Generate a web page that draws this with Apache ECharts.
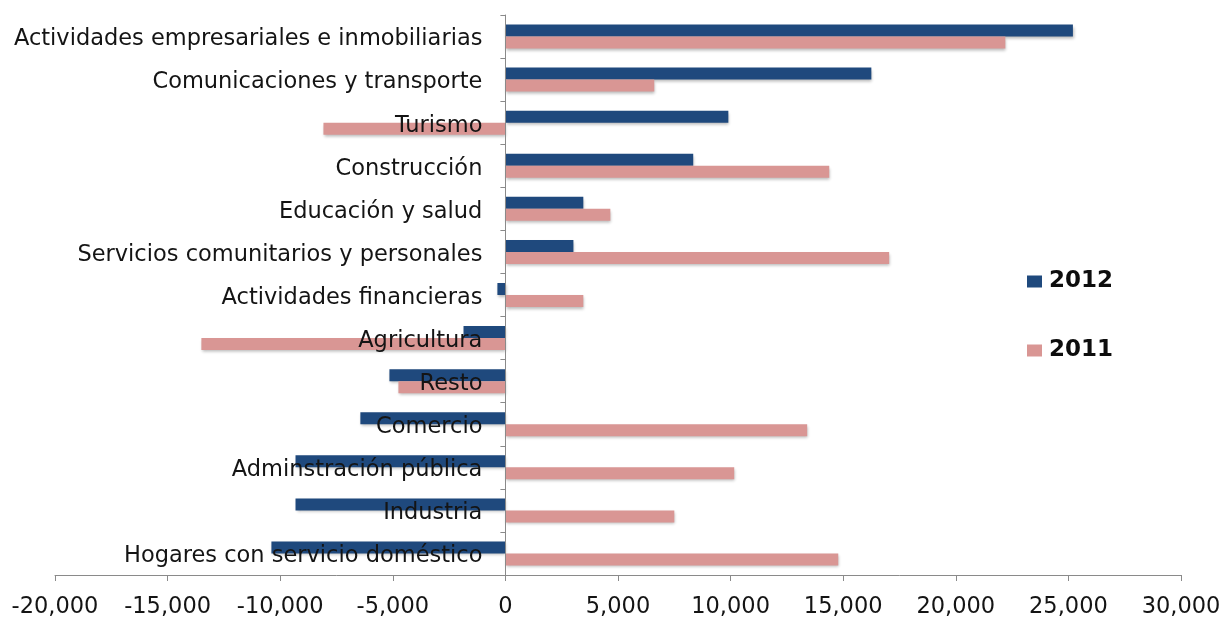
<!DOCTYPE html>
<html>
<head>
<meta charset="utf-8">
<script src="https://cdn.jsdelivr.net/npm/echarts@6/dist/echarts.min.js"></script>
<style>
  html, body { margin: 0; padding: 0; background: #ffffff; }
  #chart { width: 1224px; height: 617px; }
</style>
</head>
<body>
<div id="chart"></div>
<script>
// Sectors, listed top to bottom
const categories = [
  'Actividades empresariales e inmobiliarias',
  'Comunicaciones y transporte',
  'Turismo',
  'Construcción',
  'Educación y salud',
  'Servicios comunitarios y personales',
  'Actividades financieras',
  'Agricultura',
  'Resto',
  'Comercio',
  'Adminstración pública',
  'Industria',
  'Hogares con servicio doméstico'
];

const values2012 = [25200, 16250, 9900, 8340, 3460, 3020, -355, -1860, -5150, -6440, -9320, -9320, -10390];
const values2011 = [22200, 6610, -8080, 14380, 4660, 17040, 3460, -13500, -4750, 13400, 10160, 7500, 14780];

const seriesNames = ['2012', '2011'];
const xTicks = { min: -20000, max: 30000, step: 5000 };

const FONT = 'DejaVu Sans';
const axisGrey = '#8a8a8a';
const GRID_LEFT = 55;
const GRID_RIGHT = 43;
const CHART_W = 1224;

function withCommas(v) {
  const s = Math.abs(v).toString().replace(/\B(?=(\d{3})+(?!\d))/g, ',');
  return (v < 0 ? '-' : '') + s;
}

// Category labels sit just left of the zero line; compute where zero falls
const plotW = CHART_W - GRID_LEFT - GRID_RIGHT;
const zeroX = GRID_LEFT + plotW * (0 - xTicks.min) / (xTicks.max - xTicks.min);
const labelGap = 23;

const barShadow = {
  shadowBlur: 3,
  shadowOffsetX: 1,
  shadowOffsetY: 2,
  shadowColor: 'rgba(0,0,0,0.28)'
};

const chart = echarts.init(document.getElementById('chart'), null, { renderer: 'canvas' });

chart.setOption({
  animation: false,
  backgroundColor: '#ffffff',
  grid: { left: GRID_LEFT, right: GRID_RIGHT, top: 15, bottom: 42, containLabel: false, outerBoundsMode: 'none' },
  legend: {
    orient: 'vertical',
    left: 1022,
    top: 265,
    itemWidth: 15,
    itemHeight: 12,
    itemGap: 46,
    icon: 'rect',
    textStyle: { fontFamily: FONT, fontSize: 23, fontWeight: 'bold', color: '#0d0d0d', lineHeight: 22, padding: [0, 0, 0, 2] },
    data: seriesNames
  },
  xAxis: {
    type: 'value',
    min: xTicks.min,
    max: xTicks.max,
    interval: xTicks.step,
    splitLine: { show: false },
    axisLine: { show: true, onZero: false, lineStyle: { color: axisGrey, width: 1 } },
    axisTick: { show: true, length: 6, lineStyle: { color: axisGrey } },
    axisLabel: {
      margin: 21,
      fontFamily: FONT,
      fontSize: 22.5,
      color: '#141414',
      showMinLabel: true,
      showMaxLabel: true,
      hideOverlap: false,
      formatter: withCommas
    }
  },
  yAxis: {
    type: 'category',
    inverse: true,
    data: categories,
    z: 5,
    axisLine: { show: true, onZero: true, lineStyle: { color: axisGrey, width: 1 } },
    axisTick: { show: true, length: 5, lineStyle: { color: axisGrey } },
    axisLabel: {
      margin: -(zeroX - GRID_LEFT - labelGap),
      align: 'right',
      interval: 0,
      formatter: (v) => '{t|' + v + '}',
      rich: {
        t: {
          fontFamily: FONT,
          fontSize: 22.5,
          color: '#141414',
          padding: [6, 0, 0, 0]
        }
      }
    }
  },
  series: [
    {
      name: seriesNames[0],
      type: 'bar',
      data: values2012,
      barWidth: 12,
      barGap: '0%',
      itemStyle: Object.assign({ color: '#1f497d' }, barShadow)
    },
    {
      name: seriesNames[1],
      type: 'bar',
      data: values2011,
      barWidth: 12,
      barGap: '0%',
      itemStyle: Object.assign({ color: '#d99694' }, barShadow)
    }
  ]
});
</script>
</body>
</html>
